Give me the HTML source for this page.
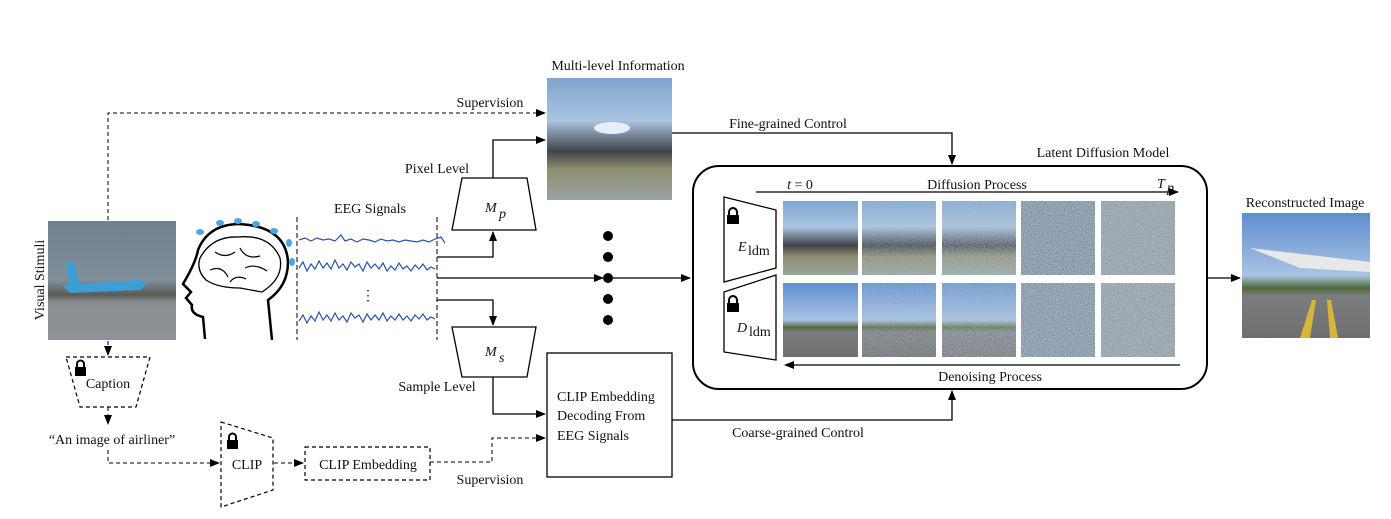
<!DOCTYPE html>
<html><head><meta charset="utf-8"><style>
html,body{margin:0;padding:0;background:#fff;}
svg{display:block;}
text{font-family:"Liberation Serif",serif;font-size:14px;fill:#111;}
</style></head><body>
<svg width="1391" height="519" viewBox="0 0 1391 519" xmlns="http://www.w3.org/2000/svg">
<defs>
<marker id="ar" markerWidth="10" markerHeight="10" refX="9" refY="5" orient="auto" markerUnits="userSpaceOnUse"><path d="M0,1 L10,5 L0,9 z" fill="#000"/></marker>
<linearGradient id="sky" x1="0" y1="0" x2="0" y2="1"><stop offset="0" stop-color="#6f8290"/><stop offset="0.5" stop-color="#7f8e98"/><stop offset="0.62" stop-color="#5a5b55"/><stop offset="0.68" stop-color="#8a8d90"/><stop offset="1" stop-color="#8e9296"/></linearGradient>
<linearGradient id="blur" x1="0" y1="0" x2="0" y2="1"><stop offset="0" stop-color="#7fa6d0"/><stop offset="0.35" stop-color="#a9c4e0"/><stop offset="0.6" stop-color="#404448"/><stop offset="0.75" stop-color="#8f8e70"/><stop offset="1" stop-color="#9aa3a0"/></linearGradient>
<linearGradient id="rec" x1="0" y1="0" x2="0" y2="1"><stop offset="0" stop-color="#5e8ed0"/><stop offset="0.5" stop-color="#a9c3e3"/><stop offset="0.6" stop-color="#4f6a3a"/><stop offset="0.66" stop-color="#7a7d7d"/><stop offset="1" stop-color="#6f6f70"/></linearGradient>
<filter id="nz" x="0" y="0" width="1" height="1"><feTurbulence type="fractalNoise" baseFrequency="0.9" numOctaves="2" seed="3"/><feColorMatrix values="0 0 0 0 0.45  0 0 0 0 0.55  0 0 0 0 0.65  0 0 0 1.4 -0.2"/><feComposite in2="SourceGraphic" operator="in"/></filter>
</defs>

<!-- Visual stimuli -->
<text transform="translate(44,280) rotate(-90)" text-anchor="middle" font-size="15">Visual Stimuli</text>
<rect x="48" y="221" width="128" height="119" fill="url(#sky)"/>
<path d="M62,285 L140,280 Q150,284 140,290 L70,293 Z" fill="#3b9fd6"/>
<path d="M66,262 L74,262 L80,286 L70,288Z" fill="#3b9fd6"/>

<!-- brain -->
<g fill="none" stroke="#000" stroke-width="2.5">
<path d="M205,339 L203,317 Q190,314 192,305 L186,298 L191,292 L183,284 Q196,262 198,250 Q208,225 238,224 Q286,226 288,262 Q288,286 268,300 L272,340"/>
<path d="M200,258 Q212,236 238,237 Q270,234 280,258 Q284,278 262,292 L240,288 Q218,288 206,280 Q196,270 200,258Z" stroke-width="1.3"/>
<path d="M215,252 q10,7 20,0 M240,248 q6,12 20,8 M210,270 q12,-5 18,7 M245,268 q10,-5 22,3 M230,282 q6,-8 16,-3" stroke-width="1.2"/>
</g>
<g fill="#4aa8e0"><ellipse cx="200" cy="232" rx="4" ry="3"/><ellipse cx="220" cy="223" rx="4" ry="3"/><ellipse cx="238" cy="221" rx="4" ry="3"/><ellipse cx="256" cy="224" rx="4" ry="3"/><ellipse cx="274" cy="231" rx="4" ry="3"/><ellipse cx="289" cy="243" rx="3" ry="4"/><ellipse cx="292" cy="262" rx="3" ry="4"/></g>

<!-- EEG -->
<text x="370" y="213" text-anchor="middle" font-size="15">EEG Signals</text>
<line x1="297" y1="217" x2="297" y2="340" stroke="#000" stroke-dasharray="5,3"/>
<line x1="437" y1="217" x2="437" y2="340" stroke="#000" stroke-dasharray="5,3"/>
<g fill="none" stroke="#2a54a8" stroke-width="1.2">
<path d="M299,240 l6,-2 6,3 6,-3 6,2 6,-1 6,2 6,-6 4,6 6,-2 6,3 6,-3 6,1 6,2 6,-3 6,2 6,-1 6,2 6,-2 6,1 6,1 6,-2 6,2 6,-3 6,-2 4,6"/>
<path d="M299,268 l4,-6 4,9 4,-7 4,5 4,-8 4,7 4,-5 4,6 4,-9 4,8 4,-4 4,6 4,-8 4,5 4,-3 4,7 4,-9 4,6 4,-4 4,5 4,-6 4,8 4,-5 4,4 4,-7 4,6 4,-3 4,5 4,-6 4,4 4,-5 4,6 4,-3 4,2"/>
<path d="M299,321 l4,-6 4,8 4,-7 4,5 4,-9 4,8 4,-5 4,6 4,-8 4,7 4,-4 4,6 4,-9 4,5 4,-3 4,7 4,-8 4,6 4,-5 4,5 4,-7 4,8 4,-5 4,4 4,-6 4,6 4,-4 4,5 4,-6 4,4 4,-5 4,6 4,-3 4,2"/>
</g>
<text x="368" y="300" text-anchor="middle" font-size="14">⋮</text>

<!-- supervision top -->
<path d="M108,220 V113 H545" fill="none" stroke="#000" stroke-dasharray="4,3" marker-end="url(#ar)"/>
<text x="490" y="107" text-anchor="middle">Supervision</text>

<!-- multi-level image -->
<text x="618" y="70" text-anchor="middle">Multi-level Information</text>
<rect x="547" y="78" width="125" height="122" fill="url(#blur)"/>
<ellipse cx="612" cy="128" rx="18" ry="6" fill="#e8eef5"/>

<!-- M_p -->
<path d="M462,178 H527 L536,230 H452 Z" fill="#fff" stroke="#000" stroke-width="1.3"/>
<text x="485" y="212" font-style="italic" font-size="17">M</text><text x="499" y="218" font-style="italic" font-size="10">p</text>
<path d="M493,178 V140 H545" fill="none" stroke="#000" stroke-width="1.3" marker-end="url(#ar)"/>
<text x="437" y="173" text-anchor="middle">Pixel Level</text>
<path d="M437,257 H493 V232" fill="none" stroke="#000" stroke-width="1.3" marker-end="url(#ar)"/>
<line x1="437" y1="278" x2="603" y2="278" stroke="#000" stroke-width="1.3" marker-end="url(#ar)"/>
<line x1="613" y1="278" x2="690" y2="278" stroke="#000" stroke-width="1.3" marker-end="url(#ar)"/>
<g fill="#000"><circle cx="608" cy="236" r="5"/><circle cx="608" cy="257" r="5"/><circle cx="608" cy="278" r="5"/><circle cx="608" cy="299" r="5"/><circle cx="608" cy="320" r="5"/></g>
<path d="M437,300 H493 V325" fill="none" stroke="#000" stroke-width="1.3" marker-end="url(#ar)"/>

<!-- M_s -->
<path d="M452,327 H536 L527,377 H462 Z" fill="#fff" stroke="#000" stroke-width="1.3"/>
<text x="485" y="356" font-style="italic" font-size="17">M</text><text x="499" y="362" font-style="italic" font-size="10">s</text>
<text x="437" y="391" text-anchor="middle">Sample Level</text>
<path d="M493,377 V414 H545" fill="none" stroke="#000" stroke-width="1.3" marker-end="url(#ar)"/>

<!-- CLIP decoding box -->
<rect x="547" y="353" width="125" height="124" fill="#fff" stroke="#000" stroke-width="1.3"/>
<text x="557" y="401">CLIP Embedding</text>
<text x="557" y="420">Decoding From</text>
<text x="557" y="440">EEG Signals</text>

<!-- fine/coarse -->
<path d="M672,133 H952 V164" fill="none" stroke="#000" stroke-width="1.3" marker-end="url(#ar)"/>
<text x="788" y="128" text-anchor="middle">Fine-grained Control</text>
<path d="M672,420 H952 V391" fill="none" stroke="#000" stroke-width="1.3" marker-end="url(#ar)"/>
<text x="798" y="437" text-anchor="middle">Coarse-grained Control</text>

<!-- LDM -->
<text x="1103" y="157" text-anchor="middle">Latent Diffusion Model</text>
<rect x="693" y="166" width="514" height="223" rx="26" fill="none" stroke="#000" stroke-width="2"/>
<line x1="756" y1="192" x2="1178" y2="192" stroke="#000" stroke-width="1.3" marker-end="url(#ar)"/>
<text x="800" y="189" text-anchor="middle" font-size="14"><tspan font-style="italic">t</tspan> = 0</text>
<text x="977" y="189" text-anchor="middle">Diffusion Process</text>
<text x="1157" y="188" font-style="italic" font-size="17">T</text><text x="1167" y="192" font-style="italic" font-size="9">p</text>
<line x1="1180" y1="365" x2="785" y2="365" stroke="#000" stroke-width="1.3" marker-end="url(#ar)"/>
<text x="990" y="381" text-anchor="middle">Denoising Process</text>

<path d="M724,197 L776,210 V268 L724,282 Z" fill="#fff" stroke="#000" stroke-width="1.3"/>
<path d="M724,292 L776,275 V360 L724,352 Z" fill="#fff" stroke="#000" stroke-width="1.3"/>
<text x="738" y="251" font-style="italic" font-size="17">E</text><text x="748" y="255" font-size="9">ldm</text>
<text x="737" y="332" font-style="italic" font-size="17">D</text><text x="749" y="336" font-size="9">ldm</text>
<g fill="#000"><rect x="727" y="215" width="12" height="9"/><path d="M729,215 v-3 a4,4 0 0 1 8,0 v3" fill="none" stroke="#000" stroke-width="2"/>
<rect x="727" y="303" width="12" height="9"/><path d="M729,303 v-3 a4,4 0 0 1 8,0 v3" fill="none" stroke="#000" stroke-width="2"/></g>

<!-- grid images -->
<g>
<rect x="783" y="201" width="75" height="74" fill="url(#blur)"/>
<rect x="862" y="201" width="74" height="74" fill="url(#blur)"/>
<rect x="942" y="201" width="74" height="74" fill="url(#blur)"/>
<rect x="1021" y="201" width="74" height="74" fill="#6a7f8c"/>
<rect x="1101" y="201" width="74" height="74" fill="#8a9090"/>
<rect x="783" y="283" width="75" height="74" fill="url(#rec)"/>
<rect x="862" y="283" width="74" height="74" fill="url(#rec)"/>
<rect x="942" y="283" width="74" height="74" fill="url(#rec)"/>
<rect x="1021" y="283" width="74" height="74" fill="#6f8494"/>
<rect x="1101" y="283" width="74" height="74" fill="#8a9090"/>
<g filter="url(#nz)" opacity="0.5"><rect x="862" y="201" width="74" height="74"/><rect x="862" y="283" width="74" height="74"/></g>
<g filter="url(#nz)" opacity="0.7"><rect x="942" y="201" width="74" height="74"/><rect x="942" y="283" width="74" height="74"/></g>
<g filter="url(#nz)"><rect x="1021" y="201" width="74" height="74"/><rect x="1021" y="283" width="74" height="74"/><rect x="1101" y="201" width="74" height="74"/><rect x="1101" y="283" width="74" height="74"/></g>
</g>

<!-- reconstructed -->
<line x1="1207" y1="278" x2="1240" y2="278" stroke="#000" stroke-width="1.3" marker-end="url(#ar)"/>
<text x="1305" y="207" text-anchor="middle">Reconstructed Image</text>
<rect x="1242" y="213" width="128" height="125" fill="url(#rec)"/>
<path d="M1250,248 L1370,262 L1370,272 L1300,268Z" fill="#e8e8e8"/>
<path d="M1300,338 L1312,300 L1316,300 L1310,338Z M1330,338 L1327,300 L1331,300 L1338,338Z" fill="#d7b53a"/>

<!-- bottom left dashed chain -->
<path d="M108,341 V355" fill="none" stroke="#000" stroke-dasharray="4,3" marker-end="url(#ar)"/>
<path d="M66,357 H150 L136,407 H80 Z" fill="#fff" stroke="#000" stroke-width="1.2" stroke-dasharray="4,3"/>
<text x="108" y="388" text-anchor="middle">Caption</text>
<rect x="75" y="367" width="11" height="9" fill="#000"/><path d="M77,367 v-3 a3.5,3.5 0 0 1 7,0 v3" fill="none" stroke="#000" stroke-width="2"/>
<path d="M108,407 V424" fill="none" stroke="#000" stroke-dasharray="4,3" marker-end="url(#ar)"/>
<text x="112" y="444" text-anchor="middle">“An image of airliner”</text>
<path d="M108,450 V463 H219" fill="none" stroke="#000" stroke-dasharray="4,3" marker-end="url(#ar)"/>
<path d="M221,422 L273,438 V490 L221,507 Z" fill="#fff" stroke="#000" stroke-width="1.2" stroke-dasharray="4,3"/>
<text x="247" y="469" text-anchor="middle">CLIP</text>
<rect x="227" y="440" width="11" height="9" fill="#000"/><path d="M229,440 v-3 a3.5,3.5 0 0 1 7,0 v3" fill="none" stroke="#000" stroke-width="2"/>
<path d="M274,463 H303" fill="none" stroke="#000" stroke-dasharray="4,3" marker-end="url(#ar)"/>
<rect x="305" y="447" width="125" height="33" fill="#fff" stroke="#000" stroke-width="1.2" stroke-dasharray="4,3"/>
<text x="368" y="469" text-anchor="middle">CLIP Embedding</text>
<path d="M430,462 H492 V438 H545" fill="none" stroke="#000" stroke-dasharray="4,3" marker-end="url(#ar)"/>
<text x="490" y="484" text-anchor="middle">Supervision</text>
</svg>
</body></html>
